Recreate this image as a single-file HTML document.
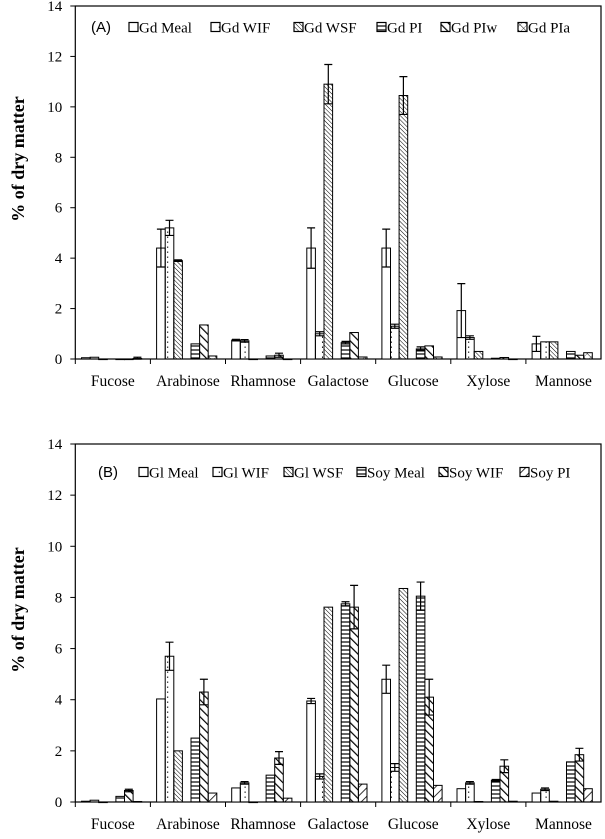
<!DOCTYPE html>
<html><head><meta charset="utf-8"><style>
body{margin:0;background:#fff;}
svg{display:block;font-family:"Liberation Serif",serif;}
</style></head><body>
<svg id="chart" width="605" height="839" viewBox="0 0 605 839">
<defs>
<pattern id="pDots" width="8.6" height="5" patternUnits="userSpaceOnUse"><rect x="3.8" y="1.5" width="1" height="1.4" fill="#000"/></pattern>
<pattern id="pThin" width="3" height="3" patternUnits="userSpaceOnUse" patternTransform="rotate(-45)"><line x1="0" y1="0" x2="0" y2="3" stroke="#000" stroke-width="1"/></pattern>
<pattern id="pHor" width="4" height="4" patternUnits="userSpaceOnUse"><line x1="0" y1="2" x2="4" y2="2" stroke="#000" stroke-width="1.2"/></pattern>
<pattern id="pThick" width="6" height="6" patternUnits="userSpaceOnUse" patternTransform="rotate(-45)"><line x1="0" y1="0" x2="0" y2="6" stroke="#000" stroke-width="2.4"/></pattern>
<pattern id="pFwd" width="6" height="6" patternUnits="userSpaceOnUse" patternTransform="rotate(45)"><line x1="0" y1="0" x2="0" y2="6" stroke="#000" stroke-width="1.6"/></pattern>
<pattern id="pCross" width="5" height="5" patternUnits="userSpaceOnUse" patternTransform="rotate(-45)"><line x1="0" y1="0" x2="0" y2="5" stroke="#000" stroke-width="1"/><line x1="0" y1="0" x2="5" y2="0" stroke="#000" stroke-width="0.6"/></pattern>
</defs>
</svg>
<script>
const categories = ["Fucose","Arabinose","Rhamnose","Galactose","Glucose","Xylose","Mannose"];
const yTicks = [0,2,4,6,8,10,12,14];
const seriesNamesA = ["Gd Meal","Gd WIF","Gd WSF","Gd PI","Gd PIw","Gd PIa"];
const meanA_meal = [0.05,4.4,0.75,4.4,4.4,1.92,0.6];
const meanA_wif  = [0.07,5.2,0.72,1.0,1.3,0.85,0.68];
const meanA_wsf  = [0,3.9,0,10.9,10.45,0.3,0.68];
const meanA_pi   = [0,0.6,0.12,0.65,0.4,0.03,0.3];
const meanA_piw  = [0,1.35,0.15,1.05,0.52,0.06,0.15];
const meanA_pia  = [0.02,0.12,0,0.08,0.08,0,0.25];
const errA_meal = [0,0.75,0.03,0.8,0.75,1.07,0.3];
const errA_wif  = [0,0.3,0.05,0.08,0.08,0.07,0];
const errA_wsf  = [0,0.03,0,0.78,0.75,0,0];
const errA_pi   = [0,0,0,0.05,0.08,0,0];
const errA_piw  = [0,0,0.08,0,0,0,0];
const errA_pia  = [0.05,0,0,0,0,0,0];
const seriesNamesB = ["Gl Meal","Gl WIF","Gl WSF","Soy Meal","Soy WIF","Soy PI"];
const meanB_glmeal = [0.03,4.03,0.55,3.95,4.8,0.52,0.35];
const meanB_glwif  = [0.07,5.7,0.75,1.0,1.35,0.75,0.5];
const meanB_glwsf  = [0,2.0,0,7.62,8.35,0.02,0.03];
const meanB_soymeal= [0.22,2.5,1.05,7.75,8.05,0.85,1.57];
const meanB_soywif = [0.45,4.3,1.72,7.62,4.1,1.4,1.85];
const meanB_soypi  = [0.02,0.35,0.15,0.7,0.65,0.03,0.52];
const errB_glmeal = [0,0,0,0.1,0.55,0,0];
const errB_glwif  = [0,0.55,0.05,0.1,0.15,0.05,0.05];
const errB_glwsf  = [0,0,0,0,0,0,0];
const errB_soymeal= [0,0,0,0.08,0.55,0.03,0];
const errB_soywif = [0.05,0.5,0.25,0.85,0.7,0.25,0.25];
const errB_soypi  = [0,0,0,0,0,0,0];

const NS="http://www.w3.org/2000/svg";
const svg=document.getElementById('chart');
const fills=["#fff","url(#pDots)","url(#pThin)","url(#pHor)","url(#pThick)","url(#pCross)"];
const fillsB=["#fff","url(#pDots)","url(#pThin)","url(#pHor)","url(#pThick)","url(#pFwd)"];
function el(tag,attrs,parent){const e=document.createElementNS(NS,tag);for(const k in attrs)e.setAttribute(k,attrs[k]);(parent||svg).appendChild(e);return e;}

function drawChart(cfg){
  const g=el('g',{});
  
  
  const x0=75.3,x1=601,groupW=(x1-x0)/categories.length;
  const yScale=v=>cfg.zero-(cfg.zero-cfg.top)*v/14;
  const slot=8.6,off=6.2,slotIdx=[0,1,2,4,5,6];
  const frame=el('rect',{x:x0,y:cfg.top,width:x1-x0,height:cfg.zero-cfg.top,fill:'none',stroke:'#000','stroke-width':1.2},g);
  
  
  yTicks.forEach(t=>{
    const y=yScale(t);
    const tk=el('line',{x1:x0-5,x2:x0,y1:y,y2:y,stroke:'#000'},g);
    
    
    const tl=el('text',{x:x0-13,y:y+5,'text-anchor':'end','font-size':15},g);
    tl.textContent=t;
    
    
  });
  categories.forEach((c,i)=>{
    const gx=x0+i*groupW;
    const tk=el('line',{x1:gx,x2:gx,y1:cfg.zero,y2:cfg.zero+5,stroke:'#000'},g);
    
    
    const tl=el('text',{x:gx+groupW/2,y:cfg.labelY,'text-anchor':'middle','font-size':15.5},g);
    tl.textContent=c;
    
    
    cfg.means.forEach((arr,s)=>{
      const v=arr[i],e=cfg.errs[s][i];
      const bx=gx+off+slotIdx[s]*slot;
      const y=yScale(v);
      const r=el('rect',{x:bx,y:y,width:slot,height:Math.max(0.6,cfg.zero-y),fill:cfg.fills[s],stroke:'#000','stroke-width':1},g);
      
      
      if(e>0){
        const cx=bx+slot/2,yt=yScale(v+e),yb=yScale(Math.max(0,v-e));
        const eb=el('path',{d:`M${cx} ${yb}V${yt}M${cx-4} ${yt}H${cx+4}M${cx-4} ${yb}H${cx+4}`,stroke:'#000','stroke-width':1.2,fill:'none'},g);
        
        
      }
    });
  });
  const pl=el('text',{x:cfg.panelX,y:cfg.legY+5,'font-size':15,'font-family':'Liberation Sans, sans-serif'},g);
  pl.textContent=cfg.panel;
  
  
  cfg.series.forEach((s,k)=>{
    const lx=cfg.legX[k];
    const lg=el('g',{},g);
    
    
    el('rect',{x:lx,y:cfg.legY-4.5,width:9,height:9,fill:cfg.fills[k],stroke:'#000','stroke-width':1.2},lg);
    const t=el('text',{x:lx+10,y:cfg.legY+5.5,'font-size':15},lg);
    t.textContent=s;
  });
  const yt=el('text',{x:0,y:0,'font-size':18,'font-weight':'bold','text-anchor':'middle',transform:`translate(24,${cfg.titleY}) rotate(-90)`},g);
  yt.textContent='% of dry matter';
  
  
}
drawChart({name:'chart-a',panel:'(A)',top:6,zero:359,labelY:386,legY:27,panelX:91,
  legX:[129,211,294,377,441,518],titleY:159,series:seriesNamesA,fills:fills,
  means:[meanA_meal,meanA_wif,meanA_wsf,meanA_pi,meanA_piw,meanA_pia],
  errs:[errA_meal,errA_wif,errA_wsf,errA_pi,errA_piw,errA_pia]});
drawChart({name:'chart-b',panel:'(B)',top:444,zero:802,labelY:829,legY:472,panelX:98,
  legX:[139,213,284,357,439,520],titleY:610,series:seriesNamesB,fills:fillsB,
  means:[meanB_glmeal,meanB_glwif,meanB_glwsf,meanB_soymeal,meanB_soywif,meanB_soypi],
  errs:[errB_glmeal,errB_glwif,errB_glwsf,errB_soymeal,errB_soywif,errB_soypi]});
</script>
</body></html>
